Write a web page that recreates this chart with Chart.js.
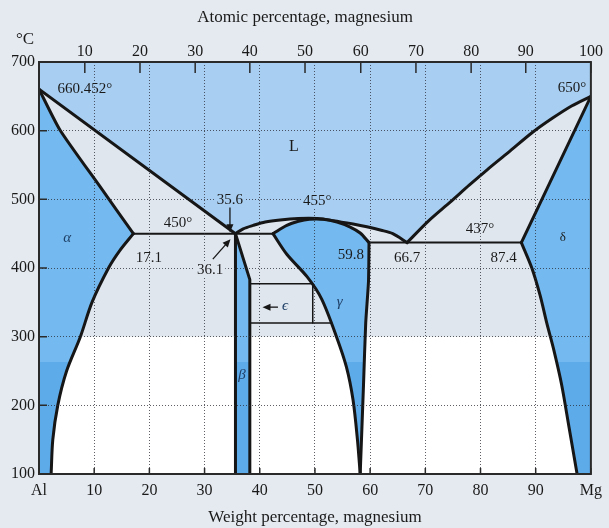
<!DOCTYPE html>
<html>
<head>
<meta charset="utf-8">
<title>Al-Mg phase diagram</title>
<script src="https://cdn.jsdelivr.net/npm/chart.js@4.4.0/dist/chart.umd.min.js"></script>
<style>
  html, body { margin: 0; padding: 0; background: #e5eaf0; }
  canvas { display: block; }
</style>
</head>
<body>
<canvas id="phaseChart" width="609" height="528"></canvas>
<script>
// phase boundaries as [weight % Mg, temperature in °C]
const alphaLiquidus = [[0, 660.452], [35.6, 450]];
const alphaSolidus = [[0, 660.452], [3.8, 601], [11.1, 518], [17.1, 450]];
const alphaSolvus = [[17.1, 450], [14.6, 425], [12.6, 400], [9.6, 350], [7.5, 300], [5.0, 250], [3.4, 200], [2.5, 150], [2.2, 100]];
const eutecticLeft = [[17.1, 450], [42.4, 450]];
const betaLeft = [[35.6, 450], [35.6, 100]];
const betaRight = [[35.6, 450], [38.2, 383], [38.2, 100]];
const domeOuter = [[35.6, 450], [37, 457], [38.8, 462], [41, 467], [43.7, 470], [47, 472], [50.4, 472], [53.3, 469], [56.9, 464], [59.4, 460], [62, 455], [64.1, 450], [66.7, 437]];
const domeInner = [[42.4, 450], [44.9, 462], [47, 468], [49, 471], [51.5, 471], [54, 467], [56.3, 460], [58.2, 451], [59.8, 437]];
const gammaLeft = [[42.4, 450], [44.9, 420], [48.6, 387], [51.2, 355], [53.9, 300], [55.7, 256], [56.9, 208], [57.7, 150], [58.2, 100]];
const gammaRight = [[59.8, 437], [59.7, 380], [59.2, 320], [58.8, 230], [58.2, 100]];
const epsilonBox = [[38.2, 377], [49.6, 377], [49.6, 320]];
const epsilonBase = [[38.2, 320], [53.0, 320]];
const eutecticRight = [[59.8, 437], [87.4, 437]];
const mgLiquidus = [[66.7, 437], [70.5, 468], [74.5, 496], [78, 521], [81.2, 543], [85, 568], [89.5, 598], [93, 618], [96.5, 636], [100, 650]];
const deltaSolidus = [[87.4, 437], [100, 650]];
const deltaSolvus = [[87.4, 437], [89.3, 400], [90.8, 360], [92, 320], [93.3, 280], [94.7, 230], [96, 170], [97.5, 100]];

// axes
const tempTicks = [100, 200, 300, 400, 500, 600, 700];
const weightTicks = [0, 10, 20, 30, 40, 50, 60, 70, 80, 90, 100];
const weightLabels = ['Al', '10', '20', '30', '40', '50', '60', '70', '80', '90', 'Mg'];
const atomicLabels = ['10', '20', '30', '40', '50', '60', '70', '80', '90', '100'];
const atomicAt = [8.3, 18.3, 28.3, 38.2, 48.2, 58.3, 68.3, 78.3, 88.2, 100];

const LIQUID = '#a8cef1';
const SOLID_HI = '#74baf0';
const SOLID_LO = '#5eabea';
const TWO_PHASE = '#dfe6ee';
const INK = '#161616';

const pts = arr => arr.map(([x, y]) => ({x, y}));

// region polygons built from the boundaries
const alphaShape = [...alphaSolidus, ...alphaSolvus.slice(1), [0, 100]];
const betaShape = [[35.6, 450], [38.2, 383], [38.2, 100], [35.6, 100]];
const gammaShape = [...domeInner, ...gammaRight.slice(1), ...gammaLeft.slice().reverse().slice(1)];
const deltaShape = [[100, 650], ...deltaSolvus, [100, 100]];
const liquidEdge = [...alphaLiquidus, ...domeOuter.slice(1), ...mgLiquidus.slice(1)];

function banded(ctx, split, upper, lower) {
    const chart = ctx.chart;
    const area = chart.chartArea;
    if (!area) return lower;
    const yPix = chart.scales.y.getPixelForValue(split);
    const f = Math.min(1, Math.max(0, (yPix - area.top) / (area.bottom - area.top)));
    const g = chart.ctx.createLinearGradient(0, area.top, 0, area.bottom);
    g.addColorStop(0, upper);
    g.addColorStop(f, upper);
    g.addColorStop(f, lower);
    g.addColorStop(1, lower);
    return g;
}
const solidFill = ctx => banded(ctx, 263, SOLID_HI, SOLID_LO);

function area(data, fill, color) {
    return {data: pts(data), showLine: true, fill: fill, backgroundColor: color,
        borderWidth: 0, pointRadius: 0, tension: 0, order: 2};
}
function edge(data, width, tension) {
    return {data: pts(data), showLine: true, fill: false, borderColor: INK,
        borderWidth: width, pointRadius: 0, tension: tension || 0,
        borderJoinStyle: 'round', borderCapStyle: 'round', order: 1};
}

const notes = [
    {text: '660.452°', x: 8.3, y: 661},
    {text: '650°', x: 96.6, y: 662},
    {text: 'L', x: 46.2, y: 576, size: 16},
    {text: '35.6', x: 34.6, y: 499, bg: LIQUID},
    {text: '450°', x: 25.2, y: 466},
    {text: 'α', x: 5.1, y: 444, italic: true},
    {text: '17.1', x: 19.9, y: 415},
    {text: '36.1', x: 31.0, y: 397, bg: TWO_PHASE},
    {text: '455°', x: 50.4, y: 498, bg: LIQUID},
    {text: '59.8', x: 56.5, y: 419},
    {text: '66.7', x: 66.7, y: 415},
    {text: '437°', x: 79.9, y: 457},
    {text: '87.4', x: 84.2, y: 415},
    {text: 'δ', x: 94.9, y: 445, size: 13},
    {text: 'γ', x: 54.5, y: 350, italic: true},
    {text: 'β', x: 36.8, y: 244, italic: true},
    {text: 'ϵ', x: 44.6, y: 345, italic: true}
];
const arrows = [
    {from: [34.6, 488], to: [34.6, 452]},
    {from: [31.5, 413], to: [34.7, 442]},
    {from: [43.3, 343], to: [40.5, 343]}
];

const plotBackground = {
    id: 'plotBackground',
    beforeDatasetsDraw(chart) {
        const {ctx, chartArea: a, scales} = chart;
        const split = scales.y.getPixelForValue(300);
        ctx.save();
        ctx.fillStyle = '#ffffff';
        ctx.fillRect(a.left, a.top, a.right - a.left, a.bottom - a.top);
        ctx.fillStyle = TWO_PHASE;
        ctx.fillRect(a.left, a.top, a.right - a.left, split - a.top);
        ctx.restore();
    }
};

const decorations = {
    id: 'decorations',
    afterDraw(chart) {
        const {ctx, chartArea: a, scales} = chart;
        const sx = scales.x, sy = scales.y;
        ctx.save();
        // frame
        ctx.strokeStyle = '#2a2a2a';
        ctx.lineWidth = 2;
        ctx.strokeRect(a.left, a.top, a.right - a.left, a.bottom - a.top);
        // inward tick marks
        ctx.lineWidth = 1.5;
        ctx.beginPath();
        tempTicks.forEach(v => {
            const y = sy.getPixelForValue(v);
            ctx.moveTo(a.left, y); ctx.lineTo(a.left + 8, y);
        });
        atomicAt.forEach(v => {
            const x = sx.getPixelForValue(v);
            ctx.moveTo(x, a.top); ctx.lineTo(x, a.top + 11);
        });
        weightTicks.forEach(v => {
            const x = sx.getPixelForValue(v);
            ctx.moveTo(x, a.bottom); ctx.lineTo(x, a.bottom - 6);
        });
        ctx.stroke();

        // arrows
        ctx.strokeStyle = INK;
        ctx.fillStyle = INK;
        ctx.lineWidth = 1.3;
        arrows.forEach(ar => {
            const x1 = sx.getPixelForValue(ar.from[0]), y1 = sy.getPixelForValue(ar.from[1]);
            const x2 = sx.getPixelForValue(ar.to[0]), y2 = sy.getPixelForValue(ar.to[1]);
            const ang = Math.atan2(y2 - y1, x2 - x1);
            ctx.beginPath();
            ctx.moveTo(x1, y1);
            ctx.lineTo(x2 - 5 * Math.cos(ang), y2 - 5 * Math.sin(ang));
            ctx.stroke();
            ctx.beginPath();
            ctx.moveTo(x2, y2);
            ctx.lineTo(x2 - 8 * Math.cos(ang) + 3.5 * Math.sin(ang), y2 - 8 * Math.sin(ang) - 3.5 * Math.cos(ang));
            ctx.lineTo(x2 - 8 * Math.cos(ang) - 3.5 * Math.sin(ang), y2 - 8 * Math.sin(ang) + 3.5 * Math.cos(ang));
            ctx.closePath();
            ctx.fill();
        });

        // region and point labels
        ctx.textAlign = 'center';
        ctx.textBaseline = 'middle';
        notes.forEach(n => {
            const x = sx.getPixelForValue(n.x), y = sy.getPixelForValue(n.y);
            ctx.font = (n.italic ? 'italic ' : '') + (n.size || 15) + 'px "Liberation Serif", serif';
            if (n.bg) {
                const w = ctx.measureText(n.text).width;
                ctx.fillStyle = n.bg;
                ctx.fillRect(x - w / 2 - 2, y - 7, w + 4, 14);
            }
            ctx.fillStyle = n.italic ? '#1f3f66' : '#1a1a1a';
            ctx.fillText(n.text, x, y);
        });

        // titles
        ctx.fillStyle = '#1a1a1a';
        ctx.font = '17px "Liberation Serif", serif';
        ctx.fillText('Atomic percentage, magnesium', 305, 18);
        ctx.fillText('°C', 25, 40);
        ctx.restore();
    }
};

const gridStyle = {display: true, drawTicks: false, color: 'rgba(40, 40, 50, 0.75)', lineWidth: 1, z: 1};

const phaseChart = new Chart(document.getElementById('phaseChart'), {
    type: 'scatter',
    data: {
        datasets: [
            edge(alphaLiquidus, 3),
            edge(alphaSolidus, 3, 0.2),
            edge(alphaSolvus, 3, 0.3),
            edge(eutecticLeft, 2),
            edge(betaLeft, 3),
            edge(betaRight, 3),
            edge(domeOuter, 3, 0.3),
            edge(domeInner, 3, 0.3),
            edge(gammaLeft, 3, 0.3),
            edge(gammaRight, 3, 0.2),
            edge(epsilonBox, 1.5),
            edge(epsilonBase, 1.5),
            edge(eutecticRight, 2),
            edge(mgLiquidus, 3, 0.3),
            edge(deltaSolidus, 3),
            edge(deltaSolvus, 3, 0.3),
            area(liquidEdge, 'end', LIQUID),
            area(alphaShape, 'shape', solidFill),
            area(betaShape, 'shape', solidFill),
            area(gammaShape, 'shape', solidFill),
            area(deltaShape, 'shape', solidFill)
        ]
    },
    options: {
        responsive: false,
        animation: false,
        events: [],
        layout: {padding: {left: 0, right: 18, top: 0, bottom: 0}},
        font: {family: '"Liberation Serif", serif'},
        scales: {
            x: {
                type: 'linear', position: 'bottom', min: 0, max: 100,
                afterFit: s => { s.height = 54; },
                ticks: {stepSize: 10, padding: 7, autoSkip: false, maxRotation: 0, color: '#1a1a1a',
                    font: {size: 16, family: '"Liberation Serif", serif'},
                    callback: v => weightLabels[weightTicks.indexOf(v)]},
                grid: gridStyle,
                border: {display: false, dash: [1, 2]},
                title: {display: true, text: 'Weight percentage, magnesium', color: '#1a1a1a',
                    padding: {top: 0, bottom: 0}, font: {size: 17, family: '"Liberation Serif", serif'}}
            },
            x2: {
                type: 'linear', position: 'top', min: 0, max: 100,
                afterFit: s => { s.height = 62; },
                afterBuildTicks: s => { s.ticks = atomicAt.map(v => ({value: v})); },
                ticks: {padding: 1, autoSkip: false, maxRotation: 0, color: '#1a1a1a',
                    font: {size: 16, family: '"Liberation Serif", serif'},
                    callback: (v, i) => atomicLabels[i]},
                grid: {display: false, drawTicks: false},
                border: {display: false}
            },
            y: {
                type: 'linear', min: 100, max: 700,
                afterFit: s => { s.width = 39; },
                ticks: {stepSize: 100, padding: 4, color: '#1a1a1a',
                    font: {size: 16, family: '"Liberation Serif", serif'}},
                grid: gridStyle,
                border: {display: false, dash: [1, 2]}
            }
        },
        plugins: {
            legend: {display: false},
            tooltip: {enabled: false}
        }
    },
    plugins: [plotBackground, decorations]
});
</script>
</body>
</html>
